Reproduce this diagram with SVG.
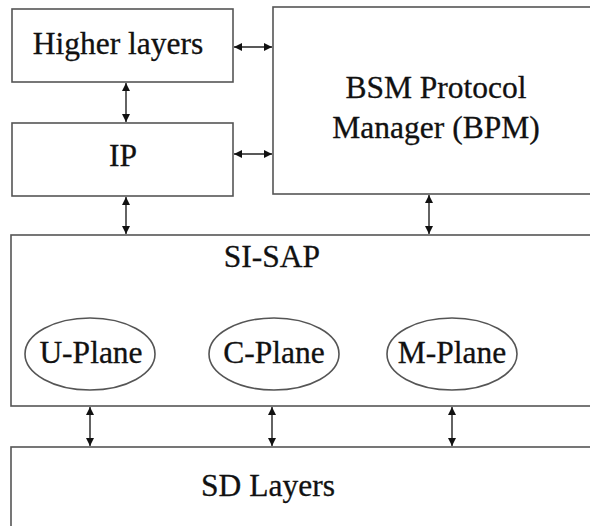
<svg xmlns="http://www.w3.org/2000/svg" width="590" height="526" viewBox="0 0 590 526">
<defs>
<marker id="ah" viewBox="0 0 10 10" refX="10" refY="5" markerWidth="9" markerHeight="8" markerUnits="userSpaceOnUse" orient="auto-start-reverse">
<path d="M0,0 L10,5 L0,10 Z" fill="#111"/>
</marker>
<style>
.box{fill:#fff;stroke:#555;stroke-width:1.6}
.t{font-family:"Liberation Serif","Times New Roman",serif;font-size:31.5px;fill:#111;stroke:#111;stroke-width:0.3;text-anchor:middle}
.c{stroke:#222;stroke-width:1.4;fill:none;marker-start:url(#ah);marker-end:url(#ah)}
</style>
</defs>
<rect width="590" height="526" fill="#fff"/>
<g id="higher"><rect class="box" x="12" y="9" width="221" height="73"/><text class="t" x="118" y="54">Higher layers</text></g>
<g id="ip"><rect class="box" x="12" y="123" width="221" height="73"/><text class="t" x="123" y="166">IP</text></g>
<g id="bpm"><rect class="box" x="273" y="7" width="330" height="187"/><text class="t" x="436" y="98">BSM Protocol</text><text class="t" x="436" y="138">Manager (BPM)</text></g>
<g id="sisap"><rect class="box" x="11" y="235" width="592" height="171"/><text class="t" x="272" y="267">SI-SAP</text></g>
<g id="uplane"><ellipse class="box" cx="90" cy="354" rx="65" ry="36" stroke-width="1.2"/><text class="t" x="91" y="363">U-Plane</text></g>
<g id="cplane"><ellipse class="box" cx="274" cy="354" rx="65" ry="36" stroke-width="1.2"/><text class="t" x="274" y="363">C-Plane</text></g>
<g id="mplane"><ellipse class="box" cx="452" cy="354" rx="65" ry="36" stroke-width="1.2"/><text class="t" x="452" y="363">M-Plane</text></g>
<g id="sd"><rect class="box" x="11" y="447" width="592" height="90"/><text class="t" x="268" y="496">SD Layers</text></g>
<g id="connectors">
<line class="c" x1="234" y1="47" x2="272" y2="47"/>
<line class="c" x1="234" y1="154" x2="272" y2="154"/>
<line class="c" x1="126" y1="83" x2="126" y2="122"/>
<line class="c" x1="126" y1="197" x2="126" y2="234"/>
<line class="c" x1="429" y1="195" x2="429" y2="234"/>
<line class="c" x1="90" y1="407" x2="90" y2="446"/>
<line class="c" x1="272" y1="407" x2="272" y2="446"/>
<line class="c" x1="452" y1="407" x2="452" y2="446"/>
</g>
</svg>
